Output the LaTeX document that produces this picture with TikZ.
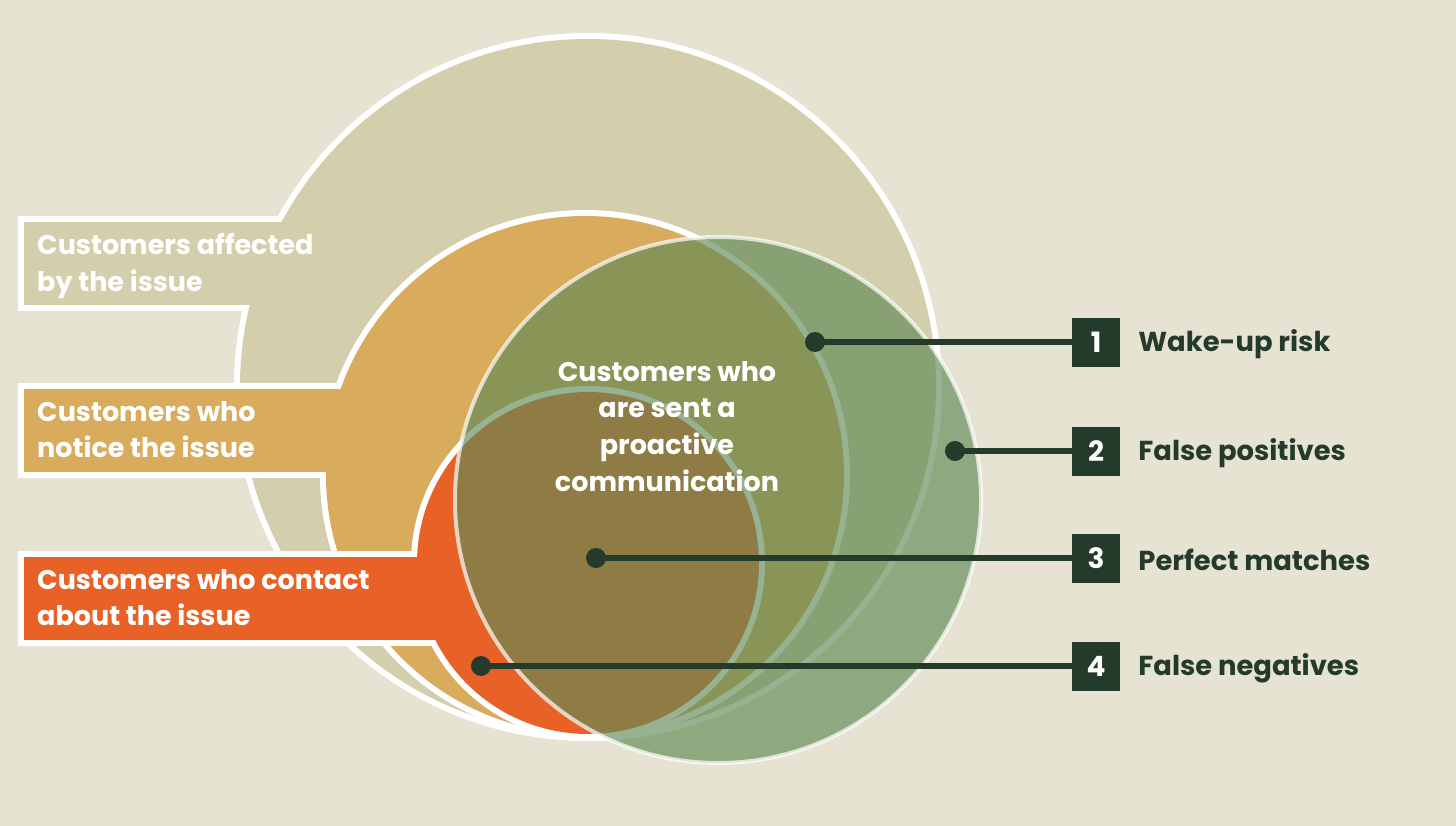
\documentclass[tikz,border=0pt]{standalone}
\usepackage{fontspec}
\setmainfont{Poppins}
\usetikzlibrary{positioning}
\definecolor{bgcol}{RGB}{230,227,211}
\definecolor{affcol}{RGB}{211,206,171}
\definecolor{notcol}{RGB}{217,171,92}
\definecolor{concol}{RGB}{232,98,39}
\definecolor{sentcol}{RGB}{95,138,85}
\definecolor{inkcol}{RGB}{36,58,42}
\begin{document}
\begin{tikzpicture}[x=1pt,y=-1pt,
  lbl/.style={anchor=north west,inner sep=0pt,align=left,text=white,
    font=\bfseries\fontsize{27}{36.7}\selectfont},
  keytext/.style={anchor=west,inner sep=0pt,text=inkcol,
    font=\bfseries\fontsize{27.4}{30}\selectfont},
  numbox/.style={fill=inkcol,minimum width=48,minimum height=49,inner sep=0pt,
    text=white,font=\bfseries\fontsize{28}{30}\selectfont},
  dot/.style={circle,fill=inkcol,minimum size=20,inner sep=0pt},
  conn/.style={draw=inkcol,line width=6pt}]
\useasboundingbox (0,0) rectangle (1456,826);
\fill[bgcol] (0,0) rectangle (1456,826);
% affected
\draw[white,line width=12pt] (588,387) circle[radius=348pt];
\draw[white,line width=12pt] (24,222) rectangle (300,305);
\fill[affcol] (588,387) circle[radius=348pt];
\fill[affcol] (24,222) rectangle (300,305);
% notice
\draw[white,line width=12pt] (585,475) circle[radius=259pt];
\draw[white,line width=12pt] (24,389) rectangle (360,472);
\fill[notcol] (585,475) circle[radius=259pt];
\fill[notcol] (24,389) rectangle (360,472);
% contact
\draw[white,line width=12pt] (588,563) circle[radius=171pt];
\draw[white,line width=12pt] (24,557) rectangle (450,640);
\fill[concol] (588,563) circle[radius=171pt];
\fill[concol] (24,557) rectangle (450,640);
% sent
\fill[sentcol,fill opacity=0.65] (718,500) circle[radius=263pt];
\draw[white,opacity=0.7,line width=4pt] (718,500) circle[radius=263pt];
% labels
\node[lbl] (affected) at (37,233) {Customers affected\\by the issue};
\node[lbl] (notice) at (37,401) {Customers who\\notice the issue};
\node[lbl] (contact) at (37,569) {Customers who contact\\about the issue};
\node[lbl,anchor=north,align=center] (sent) at (667,361)
  {Customers who\\are sent a\\proactive\\communication};
% key
\node[numbox] (n1) at (1096,342) {1};
\node[numbox] (n2) at (1096,451) {2};
\node[numbox] (n3) at (1096,558) {3};
\node[numbox] (n4) at (1096,666) {4};
\node[keytext,right=18pt of n1,yshift=-2pt] (k1) {Wake-up risk};
\node[keytext,right=18pt of n2,yshift=-2pt] (k2) {False positives};
\node[keytext,right=18pt of n3,yshift=-2pt] (k3) {Perfect matches};
\node[keytext,right=18pt of n4,yshift=-2pt] (k4) {False negatives};
\node[dot] (d1) at (815,342) {};
\node[dot] (d2) at (955,451) {};
\node[dot] (d3) at (596,558) {};
\node[dot] (d4) at (481,666) {};
\foreach \i in {1,...,4}
  \draw[conn] (d\i.center) -- (n\i.west);
\end{tikzpicture}
\end{document}
